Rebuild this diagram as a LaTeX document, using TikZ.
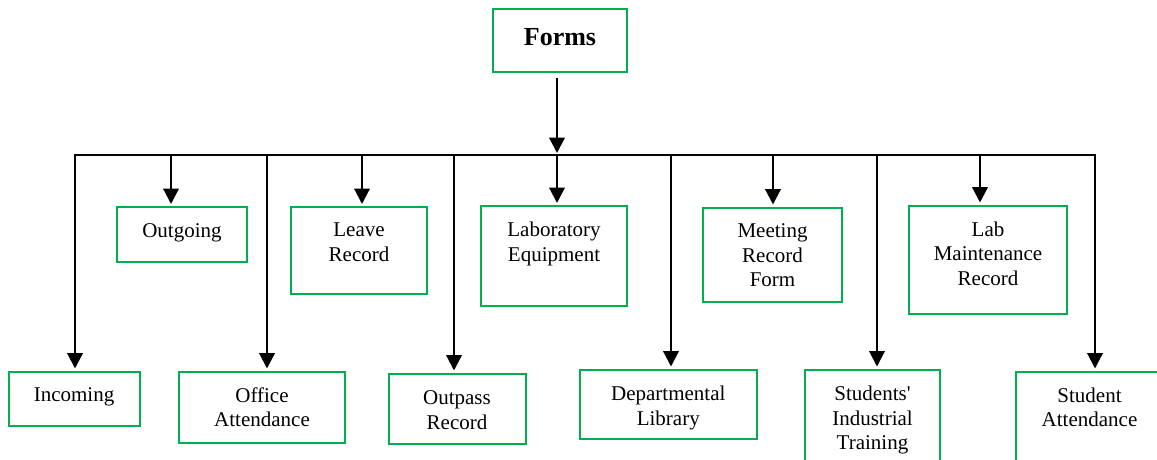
\documentclass[tikz,border=0pt]{standalone}
\usepackage{fontspec}
\setmainfont{Liberation Serif}
\usetikzlibrary{arrows.meta}
\definecolor{boxgreen}{RGB}{0,176,80}
\begin{document}
\begin{tikzpicture}[x=1pt,y=-1pt,
  box/.style={draw=boxgreen, line width=2pt, inner sep=0pt},
  lbl/.style={anchor=north, inner sep=0pt, align=center, font=\fontsize{21}{24.5}\selectfont},
  conn/.style={line width=2.2pt, -{Triangle[length=15.5pt,width=15.5pt]}, shorten >=2pt},
  busline/.style={line width=2pt}]
\clip (0,0) rectangle (1157,459);
% boxes
\node[box, minimum width=134pt, minimum height=63pt] (forms) at (560,40.5) {};
\node[anchor=base, inner sep=0pt, font=\fontsize{26}{30}\selectfont\bfseries] (formsT) at (560,45) {Forms};

\node[box, minimum width=130pt, minimum height=55pt] (out) at (182,234.5) {};
\node[lbl] (outT) at (182,223) {Outgoing};
\node[box, minimum width=136pt, minimum height=87pt] (leave) at (359,250.5) {};
\node[lbl] (leaveT) at (359,223) {Leave\\Record};
\node[box, minimum width=146pt, minimum height=99.5pt] (labeq) at (554,255.75) {};
\node[lbl] (labeqT) at (554,222) {Laboratory\\Equipment};
\node[box, minimum width=139pt, minimum height=94.5pt] (meet) at (772.5,254.75) {};
\node[lbl] (meetT) at (772.5,223.5) {Meeting\\Record\\Form};
\node[box, minimum width=158pt, minimum height=108.5pt] (labm) at (988,259.75) {};
\node[lbl] (labmT) at (988,221.5) {Lab\\Maintenance\\Record};

\node[box, minimum width=131pt, minimum height=54pt] (inc) at (74,398.5) {};
\node[lbl] (incT) at (74,387.5) {Incoming};
\node[box, minimum width=166pt, minimum height=71.5pt] (off) at (262,407.25) {};
\node[lbl] (offT) at (262,387.5) {Office\\Attendance};
\node[box, minimum width=137pt, minimum height=70pt] (outp) at (457,408.5) {};
\node[lbl] (outpT) at (457,390.5) {Outpass\\Record};
\node[box, minimum width=177.5pt, minimum height=69pt] (dept) at (668.25,404) {};
\node[lbl] (deptT) at (668.25,386) {Departmental\\Library};
\node[box, minimum width=135pt, minimum height=110.5pt] (sit) at (872.5,424.75) {};
\node[lbl] (sitT) at (872.5,386) {Students\textquotesingle\\Industrial\\Training};
\node[box, minimum width=148pt, minimum height=108.5pt] (satt) at (1089.5,425.75) {};
\node[lbl] (sattT) at (1089.5,387.5) {Student\\Attendance};

% bus
\coordinate (b1) at (75,155);
\coordinate (b2) at (171,155);
\coordinate (b3) at (267,155);
\coordinate (b4) at (362,155);
\coordinate (b5) at (454,155);
\coordinate (b6) at (557,155);
\coordinate (b7) at (671,155);
\coordinate (b8) at (773,155);
\coordinate (b9) at (877,155);
\coordinate (b10) at (980,155);
\coordinate (b11) at (1095,155);
\draw[busline] ([xshift=-1.1pt]b1) -- ([xshift=1.1pt]b11);

\draw[conn, shorten <=5pt] (forms.south -| b6) -- (b6);

\draw[conn] (b2) -- (b2 |- out.north);
\draw[conn] (b4) -- (b4 |- leave.north);
\draw[conn] (b6) -- (b6 |- labeq.north);
\draw[conn] (b8) -- (b8 |- meet.north);
\draw[conn] (b10) -- (b10 |- labm.north);

\draw[conn] (b1) -- (b1 |- inc.north);
\draw[conn] (b3) -- (b3 |- off.north);
\draw[conn] (b5) -- (b5 |- outp.north);
\draw[conn] (b7) -- (b7 |- dept.north);
\draw[conn] (b9) -- (b9 |- sit.north);
\draw[conn] (b11) -- (b11 |- satt.north);
\end{tikzpicture}
\end{document}
